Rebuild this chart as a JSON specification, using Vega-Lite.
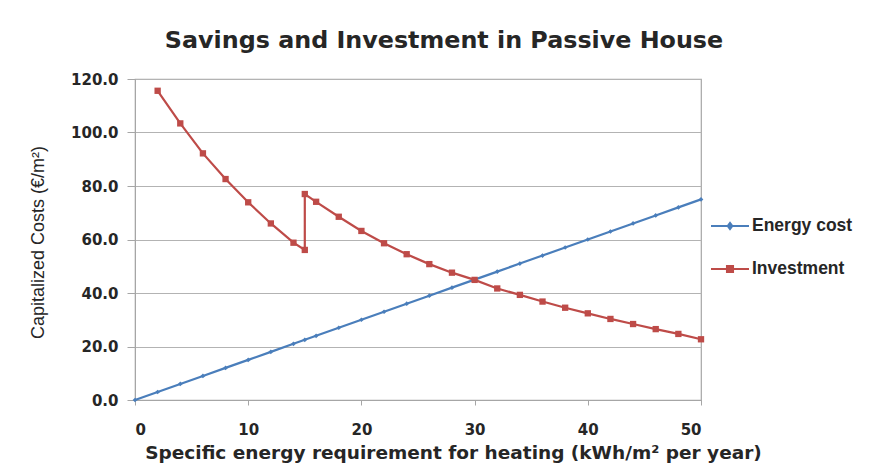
{
  "$schema": "https://vega.github.io/schema/vega-lite/v6.json",
  "width": 566,
  "height": 321,
  "autosize": {"type": "none"},
  "padding": {"left": 135, "top": 79, "right": 170, "bottom": 67},
  "background": "white",
  "title": {
    "text": "Savings and Investment in Passive House",
    "font": "DejaVu Sans",
    "fontSize": 23.8,
    "fontWeight": "bold",
    "color": "#262626",
    "anchor": "middle",
    "baseline": "middle",
    "offset": 7,
    "dx": 26
  },
  "data": {
    "values": [
      {"x": 0, "v": 0, "series": "Energy cost", "i": 0},
      {"x": 2, "v": 3, "series": "Energy cost", "i": 1},
      {"x": 4, "v": 6, "series": "Energy cost", "i": 2},
      {"x": 6, "v": 9, "series": "Energy cost", "i": 3},
      {"x": 8, "v": 12, "series": "Energy cost", "i": 4},
      {"x": 10, "v": 15, "series": "Energy cost", "i": 5},
      {"x": 12, "v": 18, "series": "Energy cost", "i": 6},
      {"x": 14, "v": 21, "series": "Energy cost", "i": 7},
      {"x": 15, "v": 22.5, "series": "Energy cost", "i": 8},
      {"x": 16, "v": 24, "series": "Energy cost", "i": 9},
      {"x": 18, "v": 27, "series": "Energy cost", "i": 10},
      {"x": 20, "v": 30, "series": "Energy cost", "i": 11},
      {"x": 22, "v": 33, "series": "Energy cost", "i": 12},
      {"x": 24, "v": 36, "series": "Energy cost", "i": 13},
      {"x": 26, "v": 39, "series": "Energy cost", "i": 14},
      {"x": 28, "v": 42, "series": "Energy cost", "i": 15},
      {"x": 30, "v": 45, "series": "Energy cost", "i": 16},
      {"x": 32, "v": 48, "series": "Energy cost", "i": 17},
      {"x": 34, "v": 51, "series": "Energy cost", "i": 18},
      {"x": 36, "v": 54, "series": "Energy cost", "i": 19},
      {"x": 38, "v": 57, "series": "Energy cost", "i": 20},
      {"x": 40, "v": 60, "series": "Energy cost", "i": 21},
      {"x": 42, "v": 63, "series": "Energy cost", "i": 22},
      {"x": 44, "v": 66, "series": "Energy cost", "i": 23},
      {"x": 46, "v": 69, "series": "Energy cost", "i": 24},
      {"x": 48, "v": 72, "series": "Energy cost", "i": 25},
      {"x": 50, "v": 75, "series": "Energy cost", "i": 26},
      {"x": 2, "v": 115.6, "series": "Investment", "i": 0},
      {"x": 4, "v": 103.4, "series": "Investment", "i": 1},
      {"x": 6, "v": 92.2, "series": "Investment", "i": 2},
      {"x": 8, "v": 82.6, "series": "Investment", "i": 3},
      {"x": 10, "v": 73.9, "series": "Investment", "i": 4},
      {"x": 12, "v": 66.0, "series": "Investment", "i": 5},
      {"x": 14, "v": 58.8, "series": "Investment", "i": 6},
      {"x": 15, "v": 56.1, "series": "Investment", "i": 7},
      {"x": 15, "v": 77.0, "series": "Investment", "i": 8},
      {"x": 16, "v": 74.1, "series": "Investment", "i": 9},
      {"x": 18, "v": 68.5, "series": "Investment", "i": 10},
      {"x": 20, "v": 63.2, "series": "Investment", "i": 11},
      {"x": 22, "v": 58.6, "series": "Investment", "i": 12},
      {"x": 24, "v": 54.5, "series": "Investment", "i": 13},
      {"x": 26, "v": 50.8, "series": "Investment", "i": 14},
      {"x": 28, "v": 47.6, "series": "Investment", "i": 15},
      {"x": 30, "v": 44.9, "series": "Investment", "i": 16},
      {"x": 32, "v": 41.7, "series": "Investment", "i": 17},
      {"x": 34, "v": 39.3, "series": "Investment", "i": 18},
      {"x": 36, "v": 36.8, "series": "Investment", "i": 19},
      {"x": 38, "v": 34.5, "series": "Investment", "i": 20},
      {"x": 40, "v": 32.4, "series": "Investment", "i": 21},
      {"x": 42, "v": 30.3, "series": "Investment", "i": 22},
      {"x": 44, "v": 28.4, "series": "Investment", "i": 23},
      {"x": 46, "v": 26.5, "series": "Investment", "i": 24},
      {"x": 48, "v": 24.7, "series": "Investment", "i": 25},
      {"x": 50, "v": 22.7, "series": "Investment", "i": 26}
    ]
  },
  "encoding": {
    "x": {
      "field": "x",
      "type": "quantitative",
      "scale": {"domain": [0, 50], "nice": false, "zero": false},
      "axis": {
        "title": "Specific energy requirement for heating (kWh/m² per year)",
        "values": [0, 10, 20, 30, 40, 50],
        "grid": false,
        "domainColor": "#a6a6a6",
        "tickColor": "#a6a6a6",
        "tickSize": 5,
        "labelFont": "DejaVu Sans",
        "labelFontSize": 15,
        "labelFontWeight": "bold",
        "labelColor": "#262626",
        "labelPadding": 17,
        "titleFont": "DejaVu Sans",
        "titleFontSize": 18.5,
        "titleFontWeight": "bold",
        "titleColor": "#262626",
        "titleX": 318,
        "titleY": 52,
        "titleAnchor": null,
        "titleAlign": "center",
        "titleBaseline": "middle"
      }
    },
    "y": {
      "field": "v",
      "type": "quantitative",
      "scale": {"domain": [0, 120], "nice": false},
      "axis": {
        "title": "Capitalized Costs (€/m²)",
        "values": [0, 20, 40, 60, 80, 100, 120],
        "format": ".1f",
        "gridColor": "#b3b3b3",
        "gridWidth": 1.2,
        "domainColor": "#a6a6a6",
        "tickColor": "#a6a6a6",
        "tickSize": 8,
        "labelFont": "DejaVu Sans",
        "labelFontSize": 15,
        "labelFontWeight": "bold",
        "labelColor": "#262626",
        "labelPadding": 9,
        "titleFont": "Liberation Sans",
        "titleFontSize": 18,
        "titleFontWeight": "normal",
        "titleColor": "#262626",
        "titleX": -97,
        "titleY": 163,
        "titleAngle": -90,
        "titleAnchor": null,
        "titleAlign": "center",
        "titleBaseline": "middle"
      }
    }
  },
  "layer": [
    {
      "mark": {"type": "line", "strokeWidth": 2.2},
      "encoding": {
        "order": {"field": "i", "type": "quantitative"},
        "color": {
          "field": "series",
          "type": "nominal",
          "scale": {"domain": ["Energy cost", "Investment"], "range": ["#4a7ebb", "#be4b48"]},
          "legend": {
            "title": null,
            "orient": "none",
            "legendX": 575,
            "legendY": 127,
            "symbolType": "M-1,0H1M-0.16,-0.16H0.16V0.16H-0.16Z",
            "symbolSize": 1444,
            "symbolStrokeWidth": 2,
            "rowPadding": 14,
            "labelOffset": 2,
            "labelFont": "Liberation Sans",
            "labelFontSize": 17.5,
            "labelFontWeight": "bold",
            "labelColor": "#262626",
            "encode": {
              "symbols": {
                "update": {
                  "shape": {"signal": "datum.value === 'Energy cost' ? 'M-1,0H1M0,-0.16L0.12,0L0,0.16L-0.12,0Z' : 'M-1,0H1M-0.16,-0.16H0.16V0.16H-0.16Z'"},
                  "fill": {"signal": "datum.value === 'Energy cost' ? '#4a7ebb' : '#be4b48'"},
                  "stroke": {"signal": "datum.value === 'Energy cost' ? '#4a7ebb' : '#be4b48'"},
                  "strokeWidth": {"value": 2},
                  "opacity": {"value": 1}
                }
              }
            }
          }
        }
      }
    },
    {
      "transform": [{"filter": "datum.series === 'Energy cost'"}],
      "mark": {"type": "point", "filled": true, "opacity": 1, "shape": "diamond", "size": 22, "color": "#4a7ebb"}
    },
    {
      "transform": [{"filter": "datum.series === 'Investment'"}],
      "mark": {"type": "point", "filled": true, "opacity": 1, "shape": "square", "size": 40, "color": "#be4b48"}
    }
  ],
  "config": {
    "view": {"stroke": "#a6a6a6", "strokeWidth": 1.2}
  }
}
